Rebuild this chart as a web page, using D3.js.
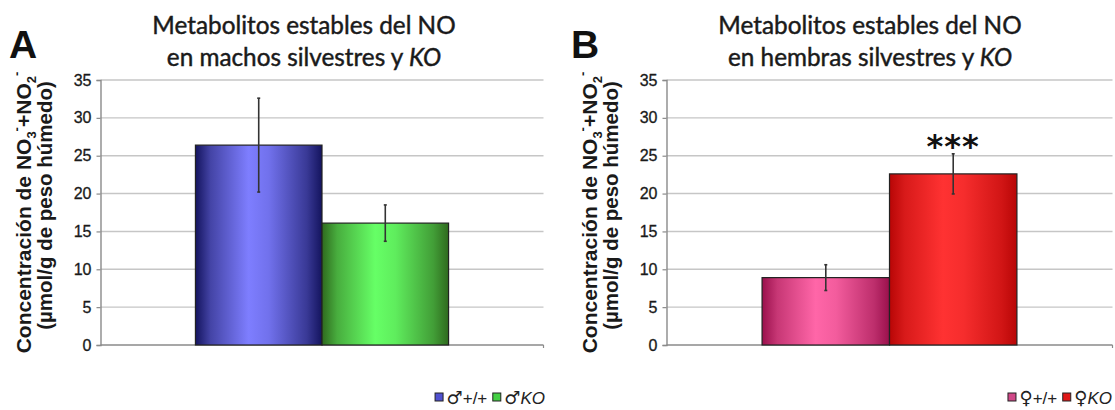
<!DOCTYPE html>
<html>
<head>
<meta charset="utf-8">
<script src="https://cdn.jsdelivr.net/npm/d3@7"></script>
<style>
  html, body { margin: 0; padding: 0; background: #fff; }
  svg { display: block; }
</style>
</head>
<body>
<svg id="chart" width="1115" height="410"></svg>
<script>
// Values: NO3- + NO2- concentration (µmol/g wet weight), mean ± error
const yTicks = [0, 5, 10, 15, 20, 25, 30, 35];

const groupsA = ["+/+", "KO"];
const meansA = [26.4, 16.1];
const errorsA = [6.2, 2.4];

const groupsB = ["+/+", "KO"];
const meansB = [8.9, 22.6];
const errorsB = [1.7, 2.65];

const sexSymbolA = "\u2642";
const sexSymbolB = "\u2640";
const significanceB = ["", "***"];

const titleA = ["Metabolitos estables del NO", "en machos silvestres y "];
const titleB = ["Metabolitos estables del NO", "en hembras silvestres y "];

// gradient colours per bar: [edge, highlight]
const shadesA = [["#14145e", "#7e7eff"], ["#2f6a1e", "#66ff66"]];
const shadesB = [["#9a104c", "#ff66a8"], ["#b80606", "#ff3232"]];
const swatchA = ["#5050d0", "#44d044"];
const swatchB = ["#d04888", "#e01818"];

const svg = d3.select("#chart");
const defs = svg.append("defs");

function gradient(id, edge, light) {
  const g = defs.append("linearGradient").attr("id", id)
    .attr("x1", "0%").attr("x2", "100%").attr("y1", "0%").attr("y2", "0%");
  g.append("stop").attr("offset", "0%").attr("stop-color", edge);
  g.append("stop").attr("offset", "12%").attr("stop-color", d3.interpolateRgb(edge, light)(0.45));
  g.append("stop").attr("offset", "42%").attr("stop-color", light);
  g.append("stop").attr("offset", "58%").attr("stop-color", d3.interpolateRgb(light, edge)(0.12));
  g.append("stop").attr("offset", "88%").attr("stop-color", d3.interpolateRgb(edge, light)(0.35));
  g.append("stop").attr("offset", "100%").attr("stop-color", edge);
}

function drawPanel(cfg) {
  const { left, right, top, bottom, letter, letterX, title, titleX,
          groups, means, errors, shades, swatches, symbol, stars, legendRight, key } = cfg;

  const g = svg.append("g");

  const y = d3.scaleLinear().domain([0, 35]).range([bottom, top]);
  const outer = d3.scaleBand().domain(["all"]).range([left, right]).paddingOuter(0.375).paddingInner(0);
  const x = d3.scaleBand().domain(groups).range([outer("all"), outer("all") + outer.bandwidth()]).padding(0);

  // gridlines
  g.append("g").selectAll("line").data(yTicks.filter(t => t > 0)).join("line")
    .attr("x1", left).attr("x2", right)
    .attr("y1", d => y(d)).attr("y2", d => y(d))
    .attr("stroke", "#c6c6c6").attr("stroke-width", 1.4);

  // y axis
  const yAxis = d3.axisLeft(y).tickValues(yTicks).tickSize(4).tickPadding(5).tickFormat(d3.format("d"));
  const ya = g.append("g").attr("transform", `translate(${left},0)`).call(yAxis);
  ya.attr("font-size", null).attr("font-family", null);
  ya.select(".domain").attr("stroke", "#8a8a8a").attr("stroke-width", 1.4);
  ya.selectAll(".tick line").attr("stroke", "#8a8a8a").attr("stroke-width", 1.2);
  ya.selectAll(".tick text").attr("fill", "#1a1a1a")
    .style("font-family", "'Liberation Sans', Arial, sans-serif").style("font-size", "16px")
    .attr("stroke", "#1a1a1a").attr("stroke-width", 0.3);

  // baseline
  g.append("line").attr("x1", left).attr("x2", right).attr("y1", bottom).attr("y2", bottom)
    .attr("stroke", "#8a8a8a").attr("stroke-width", 1.6);
  g.append("line").attr("x1", right).attr("x2", right).attr("y1", bottom).attr("y2", bottom + 3)
    .attr("stroke", "#8a8a8a").attr("stroke-width", 1.2);

  // bars
  groups.forEach((d, i) => gradient(`${key}${i}`, shades[i][0], shades[i][1]));
  g.append("g").selectAll("rect").data(groups).join("rect")
    .attr("x", d => x(d)).attr("width", x.bandwidth())
    .attr("y", (d, i) => y(means[i])).attr("height", (d, i) => y(0) - y(means[i]))
    .attr("fill", (d, i) => `url(#${key}${i})`)
    .attr("stroke", "#222").attr("stroke-width", 1.2);

  // error bars
  const eb = g.append("g").attr("stroke", "#333").attr("stroke-width", 1.6);
  groups.forEach((d, i) => {
    const cx = x(d) + x.bandwidth() / 2;
    eb.append("line").attr("x1", cx).attr("x2", cx)
      .attr("y1", y(means[i] + errors[i])).attr("y2", y(means[i] - errors[i]));
    [means[i] + errors[i], means[i] - errors[i]].forEach(v => {
      eb.append("line").attr("x1", cx - 1.5).attr("x2", cx + 1.5).attr("y1", y(v)).attr("y2", y(v));
    });
    if (stars[i]) {
      g.append("text").attr("x", cx).attr("y", y(means[i] + errors[i]) + 3)
        .attr("text-anchor", "middle")
        .style("font-family", "'DejaVu Sans', sans-serif").style("font-weight", "bold")
        .style("font-size", "32px").style("letter-spacing", "1px").attr("fill", "#111")
        .text(stars[i]);
    }
  });

  // panel letter
  g.append("text").attr("x", letterX).attr("y", 58)
    .style("font-family", "'Liberation Sans', Arial, sans-serif").style("font-weight", "bold")
    .style("font-size", "39px").attr("fill", "#111").text(letter);

  // title
  const t = g.append("text").attr("text-anchor", "middle").attr("fill", "#1a1a1a")
    .attr("stroke", "#1a1a1a").attr("stroke-width", 0.45)
    .style("font-family", "Lato, 'Open Sans', sans-serif").style("font-size", "24.3px");
  t.append("tspan").attr("x", titleX).attr("y", 34).text(title[0]);
  t.append("tspan").attr("x", titleX).attr("y", 66).text(title[1]);
  t.append("tspan").style("font-style", "italic").text("KO");

  // y label
  const yl = g.append("text")
    .attr("transform", `translate(${left - 70},${(top + bottom) / 2}) rotate(-90)`)
    .attr("text-anchor", "middle").attr("fill", "#1a1a1a")
    .style("font-family", "'Liberation Sans', Arial, sans-serif").style("font-weight", "bold")
    .style("font-size", "21px");
  yl.append("tspan").text("Concentración de NO");
  yl.append("tspan").style("font-size", "13px").attr("dy", 5).text("3");
  yl.append("tspan").style("font-size", "13px").attr("dy", -15).text("-");
  yl.append("tspan").attr("dy", 10).text("+NO");
  yl.append("tspan").style("font-size", "13px").attr("dy", 5).text("2");
  yl.append("tspan").style("font-size", "13px").attr("dy", -15).text("-");
  g.append("text")
    .attr("transform", `translate(${left - 49},${(top + bottom) / 2 - 7}) rotate(-90)`)
    .attr("text-anchor", "middle").attr("fill", "#1a1a1a")
    .style("font-family", "'Liberation Sans', Arial, sans-serif").style("font-weight", "bold")
    .style("font-size", "20.5px")
    .text("(µmol/g de peso húmedo)");

  // legend
  const lg = g.append("text").attr("x", legendRight).attr("y", 404).attr("text-anchor", "end")
    .attr("fill", "#222")
    .style("font-family", "'Liberation Sans', Arial, sans-serif").style("font-size", "17px");
  groups.forEach((d, i) => {
    lg.append("tspan").attr("class", `sw${i}`).style("font-family", "'DejaVu Sans', sans-serif").text("\u2002\u2002");
    lg.append("tspan").style("font-family", "'DejaVu Sans', sans-serif").style("font-size", "18px").text(symbol);
    lg.append("tspan").style("font-style", d === "KO" ? "italic" : "normal").text(d);
  });
  // swatches placed at the reserved gaps
  groups.forEach((d, i) => {
    const node = lg.select(`.sw${i}`).node();
    const start = node.getStartPositionOfChar(0);
    const end = node.getEndPositionOfChar(1);
    const sx = (start.x + end.x) / 2 + 1;
    g.append("rect").attr("x", sx - 4).attr("y", 393).attr("width", 8).attr("height", 8)
      .attr("fill", swatches[i]).attr("stroke", "#222").attr("stroke-width", 1);
  });
}

drawPanel({
  key: "ga", left: 100.5, right: 543.5, top: 80, bottom: 345,
  letter: "A", letterX: 9, title: titleA, titleX: 304,
  groups: groupsA, means: meansA, errors: errorsA, shades: shadesA, swatches: swatchA,
  symbol: sexSymbolA, stars: ["", ""], legendRight: 545
});

drawPanel({
  key: "gb", left: 666.5, right: 1112.5, top: 80, bottom: 345,
  letter: "B", letterX: 571, title: titleB, titleX: 870,
  groups: groupsB, means: meansB, errors: errorsB, shades: shadesB, swatches: swatchB,
  symbol: sexSymbolB, stars: significanceB, legendRight: 1112
});
</script>
</body>
</html>
